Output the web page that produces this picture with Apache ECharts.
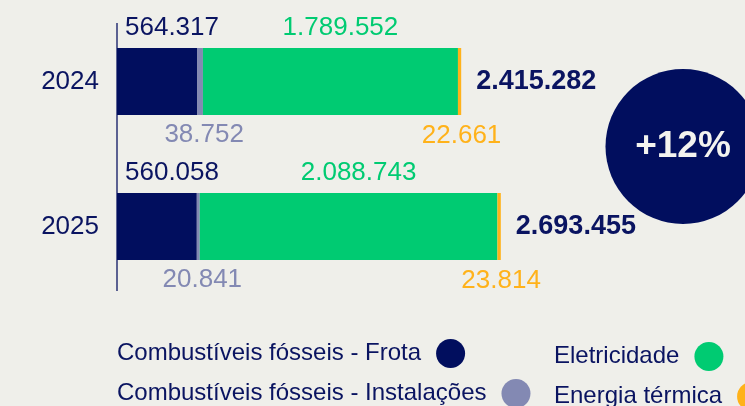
<!DOCTYPE html>
<html>
<head>
<meta charset="utf-8">
<script src="https://cdn.jsdelivr.net/npm/echarts@6/dist/echarts.min.js"></script>
<style>
html,body{margin:0;padding:0;background:#efefea;}
#chart{width:745px;height:406px;}
</style>
</head>
<body>
<div id="chart"></div>
<script>
const years = ['2024', '2025'];
const seriesNames = ['Combustíveis fósseis - Frota', 'Combustíveis fósseis - Instalações', 'Eletricidade', 'Energia térmica'];
const frota = [564317, 560058];
const instalacoes = [38752, 20841];
const eletricidade = [1789552, 2088743];
const termica = [22661, 23814];
const totals = [2415282, 2693455];

const growth = Math.round((totals[1] / totals[0] - 1) * 100);

const NAVY = '#010e5e';
const TEXTNAVY = '#0a1461';
const GRAY = '#8389b3';
const GREEN = '#00cb72';
const ORANGE = '#ffb21a';
const FONT = "'Liberation Sans', Arial, sans-serif";

const fmt = v => String(v).replace(/\B(?=(\d{3})+(?!\d))/g, '.');

const chart = echarts.init(document.getElementById('chart'), null, {renderer: 'canvas'});

const baseLabel = {show: true, fontFamily: FONT, fontSize: 26, formatter: p => fmt(p.value)};

const legendBase = {
  orient: 'horizontal', align: 'right', icon: 'circle', itemWidth: 29, itemHeight: 29, itemGap: 11,
  padding: 0, selectedMode: false,
  textStyle: {fontFamily: FONT, fontSize: 24, color: TEXTNAVY, padding: [0, 10, 0, 0]}
};

chart.setOption({
  animation: false,
  backgroundColor: '#efefea',
  textStyle: {fontFamily: FONT},
  grid: {left: 117, right: 58, top: 9, height: 290},
  xAxis: {type: 'value', min: 0, max: 4000000, show: false},
  yAxis: {
    type: 'category', data: years, inverse: true,
    axisLine: {show: false}, axisTick: {show: false}, splitLine: {show: false},
    axisLabel: {fontFamily: FONT, fontSize: 26, color: TEXTNAVY, margin: 18}
  },
  legend: [
    Object.assign({}, legendBase, {data: [seriesNames[0]], left: 117, top: 339}),
    Object.assign({}, legendBase, {data: [seriesNames[1]], left: 117, top: 379}),
    Object.assign({}, legendBase, {data: [seriesNames[2]], left: 554, top: 342}),
    Object.assign({}, legendBase, {data: [seriesNames[3]], left: 554, top: 382})
  ],
  series: [
    {
      name: seriesNames[0], type: 'bar', stack: 'total', data: frota, barWidth: 67, barGap: '-100%',
      itemStyle: {color: NAVY},
      label: Object.assign({}, baseLabel, {position: [8, -20], align: 'left', verticalAlign: 'middle', color: TEXTNAVY})
    },
    {
      name: seriesNames[1], type: 'bar', stack: 'total', data: instalacoes, barWidth: 67, barGap: '-100%',
      itemStyle: {color: GRAY},
      label: Object.assign({}, baseLabel, {position: ['50%', '100%'], offset: [4, 20], align: 'center', verticalAlign: 'middle', color: GRAY})
    },
    {
      name: seriesNames[2], type: 'bar', stack: 'total', data: eletricidade, barWidth: 67, barGap: '-100%',
      itemStyle: {color: GREEN},
      label: Object.assign({}, baseLabel, {position: ['50%', 0], offset: [10, -20], align: 'center', verticalAlign: 'middle', color: GREEN})
    },
    {
      name: seriesNames[3], type: 'bar', stack: 'total', data: termica, barWidth: 67, barGap: '-100%',
      itemStyle: {color: ORANGE},
      label: Object.assign({}, baseLabel, {position: ['50%', '100%'], offset: [2, 21], align: 'center', verticalAlign: 'middle', color: ORANGE})
    },
    {
      name: 'Total', type: 'bar', data: totals, barWidth: 67, barGap: '-100%', z: 1, silent: true,
      itemStyle: {color: 'rgba(0,0,0,0)'},
      label: {show: true, position: 'right', distance: 15, fontFamily: FONT, fontSize: 27, fontWeight: 'bold', color: TEXTNAVY, formatter: p => fmt(p.value)}
    }
  ],
  graphic: [
    {type: 'line', shape: {x1: 117, y1: 23, x2: 117, y2: 291}, style: {stroke: '#2a3274', lineWidth: 1.5}, silent: true},
    {type: 'circle', shape: {cx: 683, cy: 146.5, r: 77.5}, style: {fill: NAVY}, silent: true},
    {type: 'text', x: 683, y: 147, style: {text: (growth >= 0 ? '+' : '') + growth + '%', fill: '#f3f3ef', font: 'bold 37px ' + FONT, align: 'center', verticalAlign: 'middle'}, silent: true}
  ]
});
</script>
</body>
</html>
